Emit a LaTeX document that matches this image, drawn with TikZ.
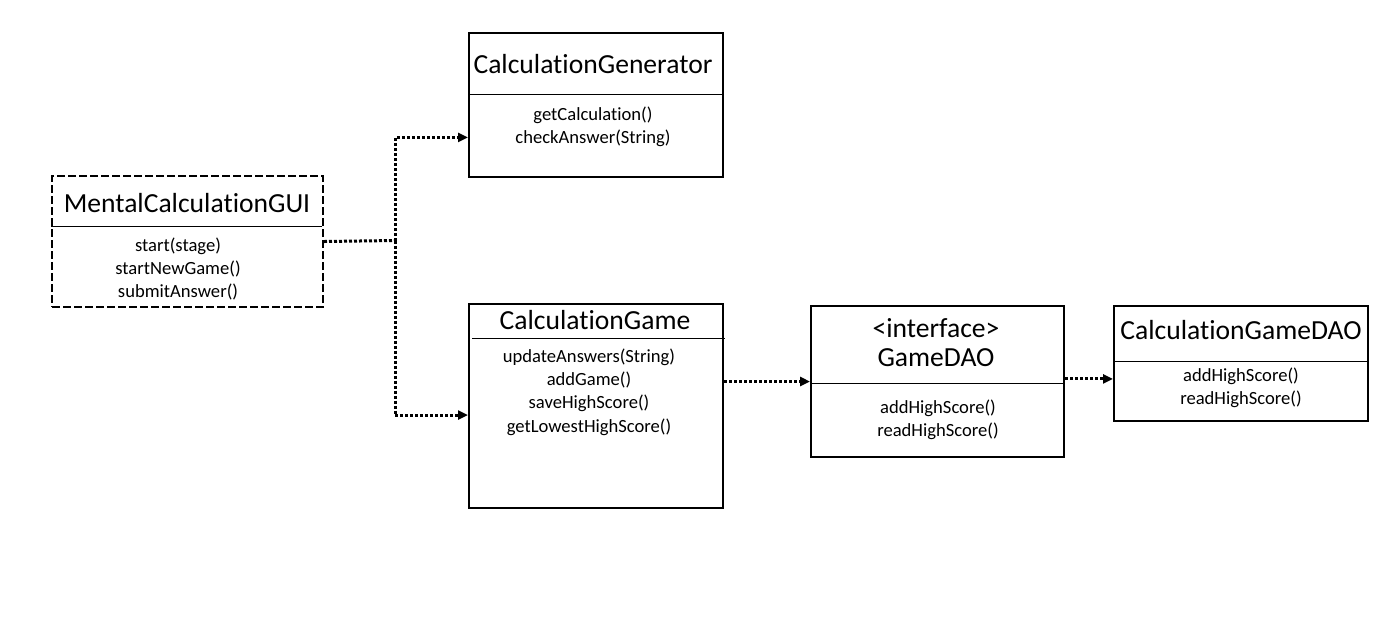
\documentclass[tikz,border=0pt]{standalone}
\usepackage{fontspec}
\setmainfont{Carlito}[Ligatures={NoCommon,NoRare,NoContextual}]
\usetikzlibrary{calc,arrows.meta}
\begin{document}
\begin{tikzpicture}[x=0.5pt,y=-0.5pt,
  box/.style={draw,line width=1pt,anchor=north west,inner sep=0pt},
  dbox/.style={box,dash pattern=on 4pt off 1.5pt},
  sep/.style={line width=0.5pt},
  title/.style={inner sep=0pt,font=\fontsize{13.8}{16.5}\selectfont,align=center},
  meth/.style={inner sep=0pt,font=\fontsize{9.3}{11.6}\selectfont,align=center},
  conn/.style={line width=1.5pt,dash pattern=on 1.5pt off 1pt,-{Triangle[length=5pt,width=4.5pt]}},
  plain/.style={line width=1.5pt,dash pattern=on 1.5pt off 1pt}]
\useasboundingbox (0,0) rectangle (1394,628);
% boxes
\node[dbox,minimum width=135.5pt,minimum height=65.5pt] (gui) at (51,175) {};
\node[box,minimum width=127pt,minimum height=72pt] (gen) at (468,32) {};
\node[box,minimum width=127pt,minimum height=102pt] (game) at (468,303) {};
\node[box,minimum width=126.5pt,minimum height=75.5pt] (gdao) at (810,305) {};
\node[box,minimum width=127pt,minimum height=57.5pt] (cgdao) at (1113,305) {};
% separators
\draw[sep] (51,226) -- (322,226);
\draw[sep] (468,94) -- (722,94);
\draw[sep] (472,338) -- (725,338);
\draw[sep] (810,383) -- (1063,383);
\draw[sep] (1113,361) -- (1369,361);
% texts
\node[title] (guit) at (187,203) {MentalCalculationGUI};
\node[meth] (guim) at (178,269) {start(stage)\\startNewGame()\\submitAnswer()};
\node[title] (gent) at (593,64) {CalculationGenerator};
\node[meth] (genm) at (593,127) {getCalculation()\\checkAnswer(String)};
\node[title] (gamet) at (595,320) {CalculationGame};
\node[meth] (gamem) at (589,392) {updateAnswers(String)\\addGame()\\saveHighScore()\\getLowestHighScore()};
\node[title] (gdaoi) at (936,328) {<interface>};
\node[title] (gdaot) at (936,358) {GameDAO};
\node[meth] (gdaom) at (938,420) {addHighScore()\\readHighScore()};
\node[title] (cgdaot) at (1241,330) {CalculationGameDAO};
\node[meth] (cgdaom) at (1241,388) {addHighScore()\\readHighScore()};
% connectors
\coordinate (br) at (395,240.5);
\draw[plain] (gui.east) -- (br);
\draw[conn] (br) |- ($(gen.north west)!0.722!(gen.south west)$);
\draw[conn] (br) |- ($(game.north west)!0.544!(game.south west)$);
\draw[conn] (game.east |- gdao.west) -- (gdao.west);
\coordinate (g2) at ($(gdao.north east)!0.483!(gdao.south east)$);
\draw[conn] (g2) -- (g2 -| cgdao.west);
\end{tikzpicture}
\end{document}
